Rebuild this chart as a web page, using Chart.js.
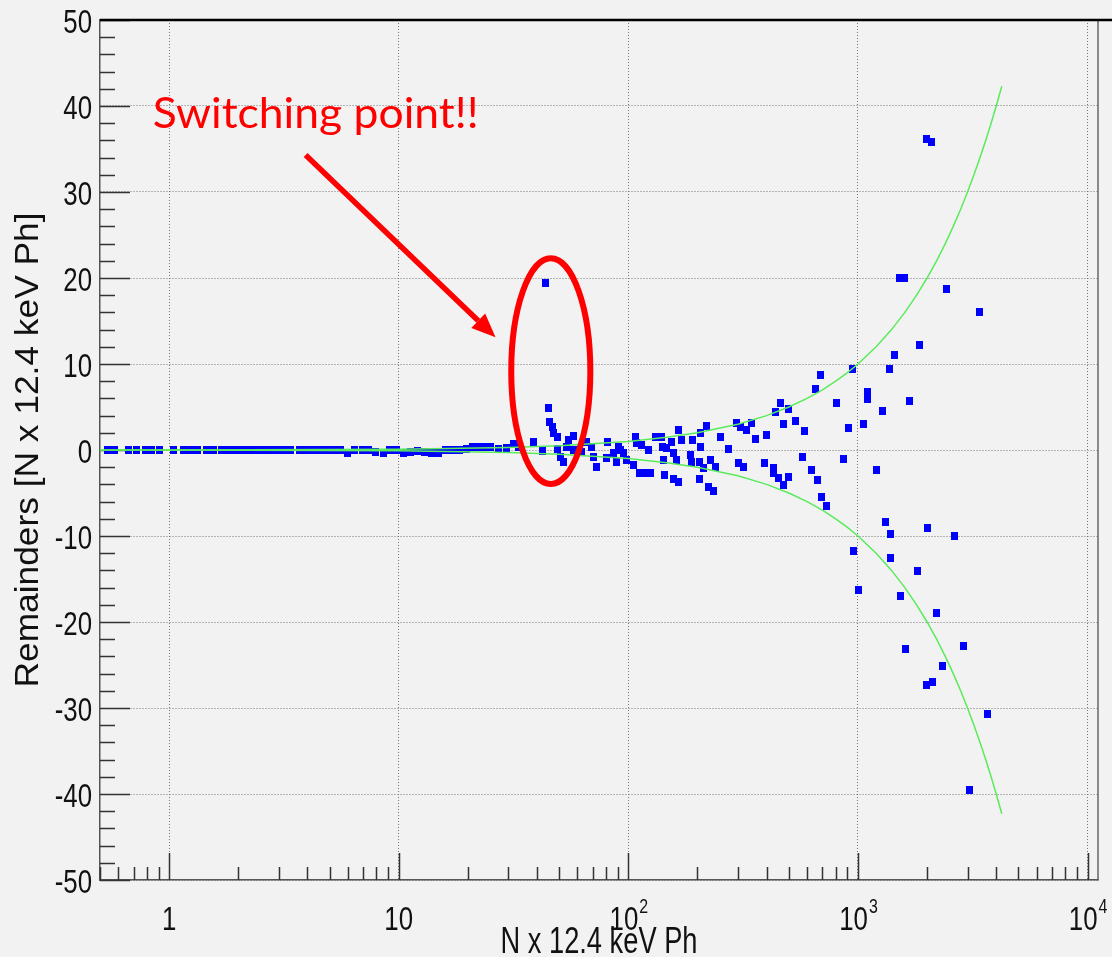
<!DOCTYPE html>
<html>
<head>
<meta charset="utf-8">
<title>Remainders</title>
<script src="https://cdn.jsdelivr.net/npm/chart.js@4.4.1/dist/chart.umd.min.js"></script>
<style>
    html, body { margin: 0; padding: 0; background: #f2f2f2; }
    canvas { display: block; }
</style>
</head>
<body>
<canvas id="mainChart" width="1112" height="957"></canvas>
<script>
"use strict";

// measured points: N x 12.4 keV photons vs remainder
const pointN = [
    0.537, 0.576, 0.663, 0.718, 0.787, 0.839, 0.905, 1.05, 1.157, 1.24,
    1.324, 1.449, 1.554, 1.684, 1.806, 1.937, 2.078, 2.229, 2.391, 2.565,
    2.751, 2.951, 3.165, 3.379, 3.68, 3.947, 4.233, 4.54, 4.87, 5.224,
    5.603, 6.01, 6.447, 6.92, 7.42, 7.96, 8.54, 9.16, 9.82, 10.54,
    11.3, 12.12, 13.0, 13.95, 14.96, 16.05, 17.21, 18.47, 19.71, 20.93,
    22.23, 23.6, 25.06, 27.24, 29.43, 31.65, 33.2, 38.68, 42.07, 43.49,
    44.95, 45.41, 46.51, 47.26, 48.9, 49.19, 50.54, 52.24, 53.6, 54.93,
    57.75, 57.75, 62.82, 66.04, 69.44, 70.57, 73.01, 80.73, 80.2, 86.2,
    89.19, 90.5, 92.2, 95.3, 98.6, 105, 107.2, 109.0, 111.9, 114.2,
    118.4, 122.4, 124.5, 130.9, 140, 141.4, 142.3, 143.3, 147.2, 154.8,
    157.3, 157.3, 162.7, 165.4, 165.4, 171.1, 186.0, 189.2, 191.1, 204.1,
    205.6, 207, 212.5, 204, 218.3, 223.4, 227.2, 234.9, 238.9, 252.9,
    272.9, 294.8, 301.6, 309.0, 317.1, 325.9, 342.6, 356.6, 390.4, 398.3,
    428.3, 428.3, 435.7, 450.4, 461.4, 473.6, 473.6, 497.9, 497.9, 532.5,
    575.2, 582.8, 629.5, 650.6, 668.5, 689, 691, 726.4, 803, 863.9,
    908.3, 949.3, 955, 1008, 1056, 1103, 1103, 1207, 1282, 1312,
    1366, 1389, 1389, 1440, 1514, 1587, 1525, 1608, 1674, 1808,
    1851, 1979, 2095, 1993, 2101, 2004, 2203, 2323, 2434, 2627,
    2895, 3053, 3376, 3657
];
const pointRemainder = [
    0, 0, 0, 0, 0, 0, 0, 0, 0, 0,
    0, 0, 0, 0, 0, 0, 0, 0, 0, 0,
    0, 0, 0, 0, 0, 0, 0, 0, 0, 0,
    0, -0.3, 0, 0, 0, -0.2, -0.3, 0, 0, -0.3,
    -0.2, -0.1, -0.2, -0.3, -0.3, 0, 0, 0, 0.1, 0.3,
    0.4, 0.4, 0.3, 0.1, 0.2, 0.7, 0.4, 0.9, -0.08, 19.45,
    4.85, 3.2, 2.7, 2.0, 0.08, 1.47, -0.77, -1.36, 0.4, 1.16,
    1.6, 0, -0.2, 0.97, 0.38, -0.77, -1.94, 0.97, -0.97, -0.38,
    -1.36, 0.38, 0, -0.38, -1.16, -1.74, 1.55, 0.78, -2.7, 0.58,
    -2.7, 0, -2.7, 1.55, 1.55, 0.3, -1.16, -2.9, 0.2, 0.97,
    -0.38, -3.4, -1.16, -3.7, 2.3, 1.16, -0.58, -1.36, 1.16, -1.36,
    2.0, 0.38, -2.1, -3.4, 2.8, -4.27, -1.16, -4.77, -1.94, 1.47,
    0.08, 3.1, -1.55, 2.7, -2.0, 2.3, 3.1, 1.28, -1.47, 1.74,
    -2.1, -2.7, 4.45, -3.3, 5.5, 2.98, -4.07, 4.73, -3.17, 3.37,
    -0.77, 2.2, -2.3, 7.05, -3.5, 8.7, -5.43, -6.5, 5.5, -1.08,
    2.6, 9.4, -11.8, -16.3, 3.0, 6.7, 5.9, -2.3, 4.57, -8.4,
    9.4, -9.8, -12.6, 11.0, 19.96, 19.96, -17.0, -23.1, 5.7, -14.1,
    12.2, 36.2, 35.8, -27.3, -27.0, -9.1, -18.9, -25.1, 18.7, -10.0,
    -22.8, -39.5, 16.0, -30.7
];

// green envelope curves
const fitN = [0.5, 1, 10, 30, 50, 100, 150, 200, 300, 400, 500, 600, 700, 800, 900, 1000,
    1200, 1400, 1600, 1800, 2000, 2200, 2400, 2600, 2800, 3000, 3200, 3400, 3600, 3800, 4000, 4230];
const fitUpper = [0.005, 0.01, 0.1, 0.3, 0.5, 1.0, 1.5, 2.0, 3.0, 4.0, 5.0, 6.0, 7.0, 8.0, 9.0, 10.0,
    12.0, 14.0, 16.0, 18.0, 20.0, 22.0, 24.0, 26.0, 28.0, 30.0, 32.0, 34.0, 36.0, 38.0, 40.0, 42.3];
const fitLower = [-0.005, -0.01, -0.1, -0.3, -0.5, -1.0, -1.5, -2.0, -3.0, -4.0, -5.0, -6.0, -7.0, -8.0, -9.0, -10.0,
    -12.0, -14.0, -16.0, -18.0, -20.0, -22.0, -24.0, -26.0, -28.0, -30.0, -32.0, -34.0, -36.0, -38.0, -40.0, -42.3];

// axes
const xTickValues = [1, 10, 100, 1000, 10000];
const xTickBase = ['1', '10', '10', '10', '10'];
const xTickExp = ['', '', '2', '3', '4'];
const yTickValues = [-50, -40, -30, -20, -10, 0, 10, 20, 30, 40, 50];
const xTitle = 'N x 12.4 keV Ph';
const yTitle = 'Remainders [N x 12.4 keV Ph]';

// annotation (anchored in data coordinates)
const noteText = 'Switching point!!';
const noteAt = { n: 0.848, r: 37.4 };
const arrowFrom = { n: 3.93, r: 34.3 };
const arrowTo = { n: 26.4, r: 13.1 };
const ringBox = { nLeft: 30.9, nRight: 68.3, rTop: 22.3, rBottom: -3.95 };

const RED = '#ff0000';
const TEXT_FONT = '"Liberation Sans", Arial, sans-serif';

function drawText(ctx, text, x, y, o) {
    ctx.save();
    ctx.translate(x, y);
    if (o.rotate) ctx.rotate(o.rotate);
    ctx.font = `${o.size}px ${o.family || TEXT_FONT}`;
    let sx = o.sx || 1;
    if (o.fitWidth) {
        sx = o.fitWidth / ctx.measureText(text).width;
    }
    ctx.scale(sx, o.sy || 1);
    ctx.fillStyle = o.color || '#111';
    ctx.textAlign = o.align || 'left';
    ctx.textBaseline = o.baseline || 'alphabetic';
    ctx.fillText(text, 0, 0);
    ctx.restore();
}

function textWidth(ctx, text, size, sx) {
    ctx.save();
    ctx.font = `${size}px ${TEXT_FONT}`;
    const w = ctx.measureText(text).width * sx;
    ctx.restore();
    return w;
}

const rootFramePlugin = {
    id: 'rootFrame',
    beforeDraw(chart) {
        const ctx = chart.ctx;
        ctx.save();
        ctx.fillStyle = '#f2f2f2';
        ctx.fillRect(0, 0, chart.width, chart.height);
        ctx.restore();
    },
    beforeDatasetsDraw(chart) {
        const ctx = chart.ctx;
        const area = chart.chartArea;
        const xs = chart.scales.x;
        const ys = chart.scales.y;
        ctx.save();
        ctx.strokeStyle = '#333';
        ctx.lineWidth = 1.5;
        ctx.beginPath();
        for (let v = -50; v <= 50; v += 2) {
            const y = Math.round(ys.getPixelForValue(v)) + 0.5;
            const len = v % 10 === 0 ? 30 : 15;
            ctx.moveTo(area.left, y);
            ctx.lineTo(area.left + len, y);
        }
        for (let d = 0.1; d <= 1000; d *= 10) {
            for (let k = 1; k <= 9; k++) {
                const v = Math.round(k * d * 1000) / 1000;
                if (v < xs.min || v > xs.max) continue;
                const x = Math.round(xs.getPixelForValue(v)) + 0.5;
                const len = k === 1 ? 27 : 13;
                ctx.moveTo(x, area.bottom);
                ctx.lineTo(x, area.bottom - len);
            }
        }
        const xEnd = Math.round(xs.getPixelForValue(10000)) + 0.5;
        ctx.moveTo(xEnd, area.bottom);
        ctx.lineTo(xEnd, area.bottom - 27);
        ctx.stroke();

        // right frame and heavy top line
        ctx.strokeStyle = '#666';
        ctx.lineWidth = 1.5;
        ctx.beginPath();
        ctx.moveTo(area.right, area.top);
        ctx.lineTo(area.right, area.bottom);
        ctx.stroke();
        ctx.strokeStyle = '#000';
        ctx.lineWidth = 2.5;
        ctx.beginPath();
        ctx.moveTo(area.left, area.top);
        ctx.lineTo(chart.width, area.top);
        ctx.stroke();
        ctx.restore();
    },
    afterDraw(chart) {
        const ctx = chart.ctx;
        const area = chart.chartArea;
        const xs = chart.scales.x;
        const ys = chart.scales.y;

        yTickValues.forEach((v) => {
            drawText(ctx, String(v), area.left - 8, ys.getPixelForValue(v) + 13,
                { size: 34, sx: 0.76, align: 'right' });
        });

        xTickValues.forEach((v, i) => {
            const cx = xs.getPixelForValue(v);
            const base = xTickBase[i];
            const exp = xTickExp[i];
            const wb = textWidth(ctx, base, 34, 0.76);
            const we = exp ? textWidth(ctx, exp, 21, 0.76) : 0;
            const left = cx - (wb + we) / 2;
            drawText(ctx, base, left, area.bottom + 50, { size: 34, sx: 0.76 });
            if (exp) {
                drawText(ctx, exp, left + wb + 1, area.bottom + 33, { size: 21, sx: 0.76 });
            }
        });

        drawText(ctx, xTitle, (area.left + area.right) / 2, 953,
            { size: 36, fitWidth: 197, align: 'center' });
        drawText(ctx, yTitle, 38, (area.top + area.bottom) / 2,
            { size: 34, fitWidth: 475, align: 'center', rotate: -Math.PI / 2 });

        // annotation: label, arrow and ring
        ctx.save();
        drawText(ctx, noteText, xs.getPixelForValue(noteAt.n), ys.getPixelForValue(noteAt.r),
            { size: 42, fitWidth: 326, color: RED, family: 'Lato, "Open Sans", sans-serif' });

        const x0 = xs.getPixelForValue(arrowFrom.n);
        const y0 = ys.getPixelForValue(arrowFrom.r);
        const x1 = xs.getPixelForValue(arrowTo.n);
        const y1 = ys.getPixelForValue(arrowTo.r);
        const ang = Math.atan2(y1 - y0, x1 - x0);
        const head = 24;
        const halfW = 10;
        const bx = x1 - head * Math.cos(ang);
        const by = y1 - head * Math.sin(ang);
        ctx.strokeStyle = RED;
        ctx.fillStyle = RED;
        ctx.lineWidth = 5.5;
        ctx.beginPath();
        ctx.moveTo(x0, y0);
        ctx.lineTo(bx, by);
        ctx.stroke();
        ctx.beginPath();
        ctx.moveTo(x1, y1);
        ctx.lineTo(bx + halfW * Math.sin(ang), by - halfW * Math.cos(ang));
        ctx.lineTo(bx - halfW * Math.sin(ang), by + halfW * Math.cos(ang));
        ctx.closePath();
        ctx.fill();

        const eL = xs.getPixelForValue(ringBox.nLeft);
        const eR = xs.getPixelForValue(ringBox.nRight);
        const eT = ys.getPixelForValue(ringBox.rTop);
        const eB = ys.getPixelForValue(ringBox.rBottom);
        ctx.lineWidth = 6;
        ctx.beginPath();
        ctx.ellipse((eL + eR) / 2, (eT + eB) / 2, (eR - eL) / 2, (eB - eT) / 2, 0, 0, Math.PI * 2);
        ctx.stroke();
        ctx.restore();
    }
};

function buildSquareMarker() {
    const c = document.createElement('canvas');
    c.width = 7;
    c.height = 8;
    const g = c.getContext('2d');
    g.fillStyle = '#0000ff';
    g.fillRect(0, 0, 7, 8);
    return c;
}

function toXY(xsArr, ysArr) {
    return xsArr.map((x, i) => ({ x: x, y: ysArr[i] }));
}

const gridStyle = { color: 'rgba(105,105,105,0.9)', lineWidth: 1, drawTicks: false };

const chart = new Chart(document.getElementById('mainChart'), {
    type: 'scatter',
    data: {
        datasets: [
            {
                label: 'upper fit',
                data: toXY(fitN, fitUpper),
                showLine: true,
                borderColor: 'rgb(90,235,90)',
                borderWidth: 1.5,
                pointRadius: 0,
                order: 0
            },
            {
                label: 'lower fit',
                data: toXY(fitN, fitLower),
                showLine: true,
                borderColor: 'rgb(90,235,90)',
                borderWidth: 1.5,
                pointRadius: 0,
                order: 0
            },
            {
                label: 'remainders',
                data: toXY(pointN, pointRemainder),
                pointStyle: buildSquareMarker(),
                pointRadius: 4,
                pointBorderWidth: 0,
                backgroundColor: '#0000ff',
                order: 1
            }
        ]
    },
    options: {
        responsive: false,
        animation: false,
        devicePixelRatio: 1,
        layout: { padding: { top: 20, right: 14, left: 0, bottom: 0 } },
        plugins: {
            legend: { display: false },
            tooltip: { enabled: false }
        },
        scales: {
            x: {
                type: 'logarithmic',
                min: 0.5,
                max: 11100,
                afterBuildTicks: (s) => { s.ticks = xTickValues.map((v) => ({ value: v })); },
                afterFit: (s) => { s.height = 77; },
                ticks: { display: false },
                grid: gridStyle,
                border: { display: true, color: '#555', width: 1.5, dash: [1, 2] }
            },
            y: {
                min: -50,
                max: 50,
                afterBuildTicks: (s) => { s.ticks = yTickValues.map((v) => ({ value: v })); },
                afterFit: (s) => { s.width = 100; },
                ticks: { display: false },
                grid: gridStyle,
                border: { display: true, color: '#555', width: 1.5, dash: [1, 2] }
            }
        }
    },
    plugins: [rootFramePlugin]
});
</script>
</body>
</html>
